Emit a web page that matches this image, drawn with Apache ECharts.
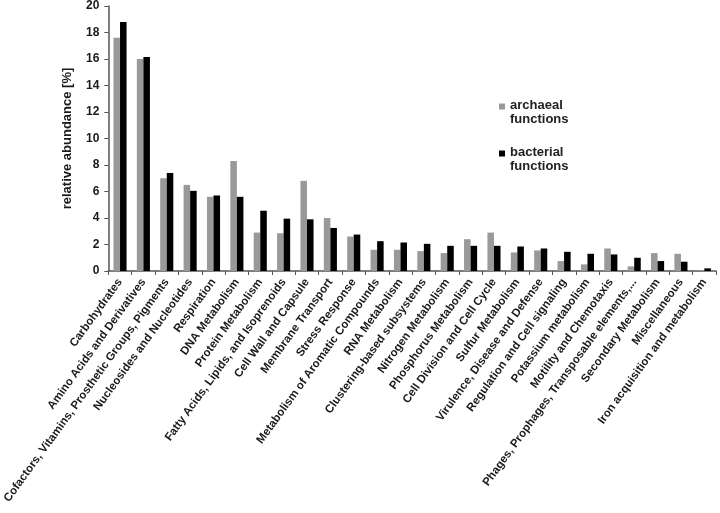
<!DOCTYPE html>
<html>
<head>
<meta charset="utf-8">
<script src="https://cdn.jsdelivr.net/npm/echarts@6/dist/echarts.min.js"></script>
<style>
  html, body { margin: 0; padding: 0; background: #fff; }
  #chart { width: 720px; height: 513px; }
</style>
</head>
<body>
<div id="chart"></div>
<script>
var categories = [
  'Carbohydrates', 'Amino Acids and Derivatives', 'Cofactors, Vitamins, Prosthetic Groups, Pigments',
  'Nucleosides and Nucleotides', 'Respiration', 'DNA Metabolism', 'Protein Metabolism',
  'Fatty Acids, Lipids, and Isoprenoids', 'Cell Wall and Capsule', 'Membrane Transport',
  'Stress Response', 'Metabolism of Aromatic Compounds', 'RNA Metabolism',
  'Clustering-based subsystems', 'Nitrogen Metabolism', 'Phosphorus Metabolism',
  'Cell Division and Cell Cycle', 'Sulfur Metabolism', 'Virulence, Disease and Defense',
  'Regulation and Cell signaling', 'Potassium metabolism', 'Motility and Chemotaxis',
  'Phages, Prophages, Transposable elements,...', 'Secondary Metabolism', 'Miscellaneous',
  'Iron acquisition and metabolism'
]
var archaeal = [17.6, 16.0, 7.0, 6.5, 5.6, 8.3, 2.9, 2.85, 6.8, 4.0, 2.6, 1.6, 1.6, 1.5, 1.35,
  2.4, 2.9, 1.4, 1.55, 0.75, 0.5, 1.7, 0.35, 1.35, 1.3, 0.05]
var bacterial = [18.8, 16.15, 7.4, 6.05, 5.7, 5.6, 4.55, 3.95, 3.9, 3.25, 2.75, 2.25, 2.15, 2.05,
  1.9, 1.9, 1.9, 1.85, 1.7, 1.45, 1.3, 1.25, 1.0, 0.75, 0.7, 0.2]
var seriesNames = ['archaeal\nfunctions', 'bacterial\nfunctions']

var chart = echarts.init(document.getElementById('chart'))
var fontFamily = 'Liberation Sans, Arial, sans-serif'
// square marker sitting next to the first text line
var legendIcon = 'path://M0,4h7v7h-7z M0,0h0.01v0.01h-0.01z M0,28h0.01v0.01h-0.01z'
var option = {
  animation: false,
  textStyle: { fontFamily: fontFamily },
  grid: { left: 101, right: 4, top: 6, bottom: 242 },
  legend: {
    orient: 'vertical',
    left: 494,
    top: 93,
    itemWidth: 6,
    itemHeight: 28,
    itemGap: 19,
    icon: legendIcon,
    textStyle: { fontSize: 13, fontWeight: 'bold', color: '#222', lineHeight: 14, fontFamily: fontFamily },
    data: seriesNames
  },
  xAxis: {
    type: 'category',
    data: categories,
    axisLine: { lineStyle: { color: '#555', width: 1.5 } },
    axisTick: { show: true, length: 4, lineStyle: { color: '#555' } },
    axisLabel: {
      interval: 0,
      rotate: 54,
      fontSize: 11.5,
      fontWeight: 'bold',
      color: '#1a1a1a',
      margin: 9
    }
  },
  yAxis: {
    type: 'value',
    min: 0,
    max: 20,
    interval: 2,
    name: 'relative abundance [%]',
    nameLocation: 'middle',
    nameGap: 34,
    nameTextStyle: { fontSize: 13, fontWeight: 'bold', color: '#1a1a1a' },
    splitLine: { show: false },
    axisLine: { show: true, lineStyle: { color: '#555', width: 1.5 } },
    axisTick: { show: true, length: 4, lineStyle: { color: '#555' } },
    axisLabel: { fontSize: 12, fontWeight: 'bold', color: '#1a1a1a', margin: 9 }
  },
  series: [
    {
      name: seriesNames[0],
      type: 'bar',
      data: archaeal,
      itemStyle: { color: '#999999' },
      barGap: '0%',
      barCategoryGap: '44%'
    },
    {
      name: seriesNames[1],
      type: 'bar',
      data: bacterial,
      itemStyle: { color: '#000000' },
      barGap: '0%',
      barCategoryGap: '44%'
    }
  ]
}
chart.setOption(option)
</script>
</body>
</html>
